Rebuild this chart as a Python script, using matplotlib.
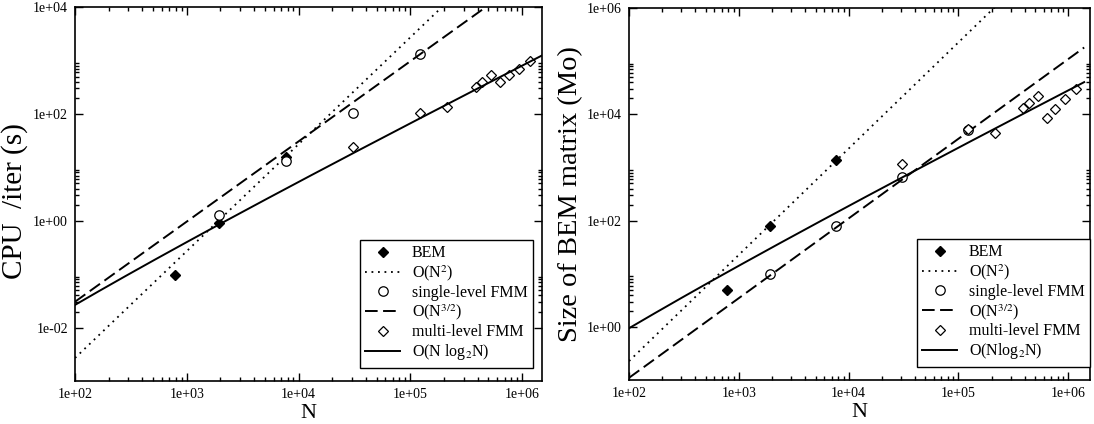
import numpy as np
import matplotlib
matplotlib.use('Agg')
import matplotlib.pyplot as plt
from matplotlib.ticker import LogLocator, FixedLocator, FuncFormatter, NullFormatter

# problem sizes N
n_bem = [780, 1940, 7700]
n_single = [1940, 7700, 30500, 122000]
n_multi = [30500, 122000, 215000, 390000, 440000, 525000, 635000, 765000, 940000, 1180000]

# CPU time per iteration (s)
cpu_bem = [0.097, 0.9, 15.3]
cpu_single = [1.3, 13.2, 106, 1344]
cpu_multi = [24, 104, 135, 325, 388, 528, 402, 536, 688, 963]

# size of the BEM matrix (Mo)
size_bem = [5.0, 79, 1387]
size_single = [9.9, 79, 651, 5130]
size_multi = [1164, 5300, 4400, 13200, 16700, 22400, 8700, 12700, 19500, 30500]

# labelled y ticks
cpu_yticks = [1e-2, 1e0, 1e2, 1e4]
size_yticks = [1e0, 1e2, 1e4, 1e6]

# prefactors of the reference scaling laws
cpu_c2, cpu_c32, cpu_clog = 2.7e-7, 3.05e-5, 4.0e-5
size_c2, size_c32, size_clog = 2.27e-5, 1.1e-4, 1.42e-3

plt.rcParams['font.family'] = ['Liberation Serif', 'DejaVu Serif']
plt.rcParams['mathtext.fontset'] = 'stix'


def style_axes(ax, xmax, ylim, yticks):
    ax.set_xscale('log')
    ax.set_yscale('log')
    ax.set_xlim(100, xmax)
    ax.set_ylim(*ylim)
    ax.xaxis.set_major_locator(FixedLocator([1e2, 1e3, 1e4, 1e5, 1e6]))
    ax.xaxis.set_minor_locator(LogLocator(base=10, subs=np.arange(2, 10)))
    ax.yaxis.set_major_locator(FixedLocator(yticks))
    ax.yaxis.set_minor_locator(LogLocator(base=100, subs=np.arange(2, 10)))
    fmt = FuncFormatter(lambda v, pos: f"{v:.0e}")
    ax.xaxis.set_major_formatter(fmt)
    ax.yaxis.set_major_formatter(fmt)
    ax.xaxis.set_minor_formatter(NullFormatter())
    ax.yaxis.set_minor_formatter(NullFormatter())
    ax.tick_params(which='both', direction='in', top=True, right=True,
                   labelsize=10, width=1.0)
    ax.tick_params(which='major', length=6, pad=5)
    ax.tick_params(which='minor', length=3)
    for s in ax.spines.values():
        s.set_linewidth(1.2)


def draw(ax, bem, single, multi, c2, c32, clog, nline, loglabel):
    n = np.array(nline)
    ax.plot(n_bem, bem, ls='none', marker='D', ms=5.5, color='k', label='BEM')
    ax.plot(n, c2 * n**2, color='k', lw=1.3, dashes=(1, 2.6), label='O(N$^{2}$)')
    ax.plot(n_single, single, ls='none', marker='o', ms=6.8, mfc='white',
            mec='k', mew=0.9, label='single-level FMM')
    ax.plot(n, c32 * n**1.5, color='k', lw=1.4, dashes=(6.5, 2.8),
            label='O(N$^{3/2}$)')
    ax.plot(n_multi, multi, ls='none', marker='D', ms=5.2, mfc='white',
            mec='k', mew=0.9, label='multi-level FMM')
    ax.plot(n, clog * n * np.log2(n), color='k', lw=1.4, label=loglabel)


fig = plt.figure(figsize=(10.94, 4.24), dpi=100)
ax1 = fig.add_axes([0.0686, 0.1014, 0.4268, 0.882])
ax2 = fig.add_axes([0.575, 0.1038, 0.4214, 0.877])

style_axes(ax1, 1.51e6, (1e-3, 1e4), cpu_yticks)
draw(ax1, cpu_bem, cpu_single, cpu_multi, cpu_c2, cpu_c32, cpu_clog,
     np.logspace(2, 6.2, 200), 'O(N log$_2$N)')
ax1.set_xlabel('N', fontsize=16)
ax1.set_ylabel('CPU  /iter (s)', fontsize=21)
ax1.xaxis.set_label_coords(0.5, -0.062)
ax1.yaxis.set_label_coords(-0.10, 0.48)

style_axes(ax2, 1.58e6, (1e-1, 1e6), size_yticks)
draw(ax2, size_bem, size_single, size_multi, size_c2, size_c32, size_clog,
     np.logspace(2, 6.145, 200), 'O(Nlog$_2$N)')
ax2.set_xlabel('N', fontsize=16)
ax2.set_ylabel('Size of BEM matrix (Mo)', fontsize=20.5)
ax2.xaxis.set_label_coords(0.5, -0.062)
ax2.yaxis.set_label_coords(-0.10, 0.5)

for ax, anchor in ((ax1, (0.981, 0.035)), (ax2, (1.0, 0.035))):
    leg = ax.legend(loc='lower right', bbox_to_anchor=anchor, borderaxespad=0,
                    fontsize=11.5, numpoints=1, handlelength=2.2,
                    handletextpad=0.7, labelspacing=0.12, borderpad=0.35,
                    fancybox=False, framealpha=1)
    leg.get_frame().set_edgecolor('k')
    leg.get_frame().set_linewidth(1.0)

fig.savefig('out.png', dpi=100)
